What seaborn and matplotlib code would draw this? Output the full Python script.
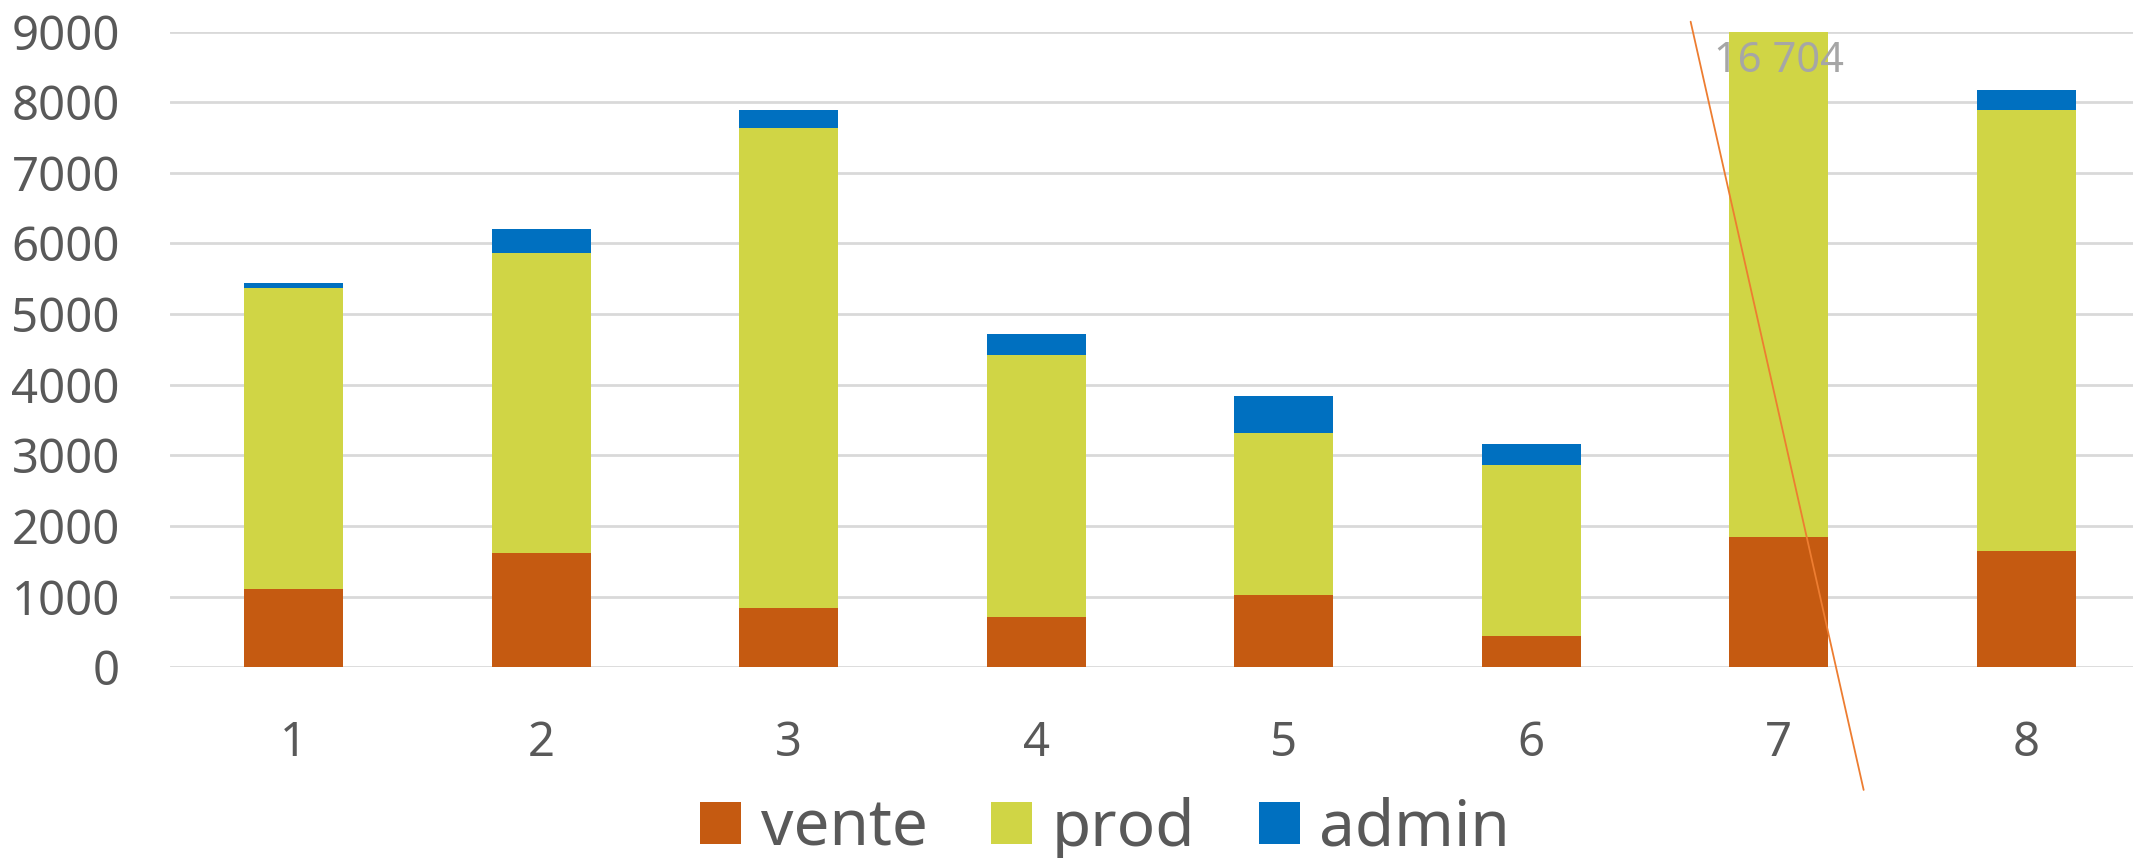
import matplotlib
matplotlib.use("Agg")
import matplotlib.pyplot as plt
from matplotlib.patches import Patch
from matplotlib.lines import Line2D
import seaborn as sns
import numpy as np
import pandas as pd

# ---- data ----
categories = ["1", "2", "3", "4", "5", "6", "7", "8"]
vente = [1110, 1620, 847, 720, 1018, 442, 1846, 1645]
prod = [4255, 4246, 6788, 3697, 2294, 2428, 14558, 6247]
admin = [78, 335, 253, 304, 525, 290, 300, 286]
series_names = ["vente", "prod", "admin"]
colors = ["#C55A11", "#D0D545", "#0070C0"]
yticks = [0, 1000, 2000, 3000, 4000, 5000, 6000, 7000, 8000, 9000]
break_label = "16 704"
break_cat = "7"

sns.set_theme(style="white")
plt.rcParams["font.family"] = ["Noto Sans", "DejaVu Sans"]

W, H, DPI = 2133, 858, 100
fig = plt.figure(figsize=(W / DPI, H / DPI), dpi=DPI)
ax = fig.add_axes([170 / W, (H - 667.4) / H, 1980 / W, 635.9 / H])

df = pd.DataFrame({"cat": categories, "vente": vente, "prod": prod, "admin": admin})
df["l1"] = df["vente"]
df["l2"] = df["vente"] + df["prod"]
df["l3"] = df["l2"] + df["admin"]

for col, c in zip(["l3", "l2", "l1"], colors[::-1]):
    sns.barplot(data=df, x="cat", y=col, order=categories, color=c,
                saturation=1, width=0.4, errorbar=None, ax=ax,
                edgecolor="none", zorder=3)

ax.set_ylim(0, 9000)
ax.set_xlim(-0.5, len(categories) - 0.5)
ax.set_yticks(yticks)
ax.set_yticklabels([str(v) for v in yticks])
ax.set_xlabel("")
ax.set_ylabel("")
for s in ax.spines.values():
    s.set_visible(False)
ax.grid(axis="y", color="#D9D9D9", lw=2.0, zorder=0)
ax.grid(axis="x", visible=False)
ax.set_axisbelow(True)
ax.tick_params(axis="both", length=0, labelsize=34, colors="#595959")
ax.tick_params(axis="y", pad=36)
ax.tick_params(axis="x", pad=38)

# break annotation on category 7
xi = categories.index(break_cat)
ax.text(xi, 8580, break_label, ha="center", va="center", fontsize=30,
        color="#A6A6A6", zorder=5)
ax.add_line(Line2D([xi - 0.356, xi + 0.343], [9139, -1734], color="#ED7D31",
                   lw=1.3, clip_on=False, zorder=6))

handles = [Patch(facecolor=c, edgecolor="none") for c in colors]
fig.legend(handles, series_names, loc="center", bbox_to_anchor=(1105 / W, 0.034),
           ncol=3, frameon=False, fontsize=46, handlelength=0.64, handleheight=0.64,
           handletextpad=0.3, columnspacing=1.0, labelcolor="#595959",
           borderpad=0, borderaxespad=0)

fig.savefig("out.png", dpi=DPI)
